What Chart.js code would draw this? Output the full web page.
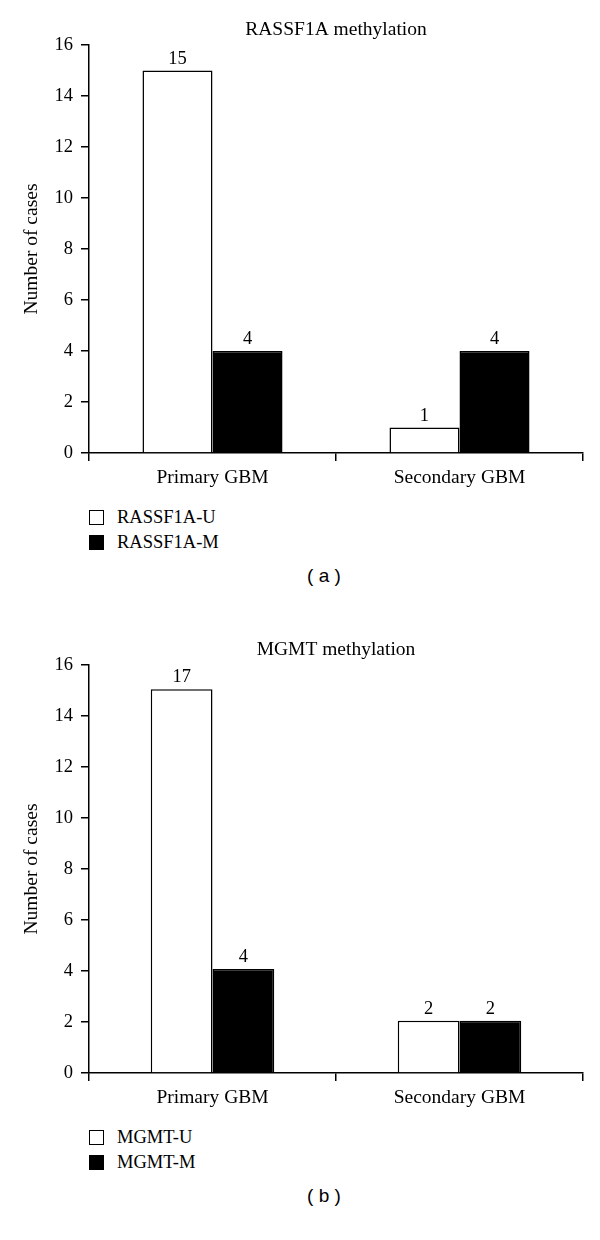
<!DOCTYPE html>
<html>
<head>
<meta charset="utf-8">
<script src="https://cdn.jsdelivr.net/npm/chart.js"></script>
<style>
  body { margin: 0; background: #fff; }
  #page { position: relative; width: 600px; height: 1240px; font-family: "Liberation Serif", serif; color: #000; }
  .chart-box { position: absolute; left: 0; width: 600px; height: 493px; }
  .legend-row { position: absolute; left: 89px; height: 25px; display: flex; align-items: center; font-size: 18.5px; }
  .swatch { width: 15px; height: 15px; box-sizing: border-box; border: 1.5px solid #000; margin-right: 13px; }
  .caption { position: absolute; left: 0; width: 648px; text-align: center; font-family: "Liberation Sans", sans-serif; font-size: 19px; }
</style>
</head>
<body>
<div id="page">
  <div class="chart-box" style="top:0"><canvas id="chart-a"></canvas></div>
  <div class="legend-row" style="top:505px"><div class="swatch" style="background:#fff"></div>RASSF1A-U</div>
  <div class="legend-row" style="top:530px"><div class="swatch" style="background:#000"></div>RASSF1A-M</div>
  <div class="caption" style="top:565px">( a )</div>

  <div class="chart-box" style="top:620px"><canvas id="chart-b"></canvas></div>
  <div class="legend-row" style="top:1125px"><div class="swatch" style="background:#fff"></div>MGMT-U</div>
  <div class="legend-row" style="top:1150px"><div class="swatch" style="background:#000"></div>MGMT-M</div>
  <div class="caption" style="top:1185px">( b )</div>
</div>

<script>
// 数据
const categories = ['Primary GBM', 'Secondary GBM'];

const rassfU = [15, 1];
const rassfM = [4, 4];
const rassfULabels = ['15', '1'];
const rassfMLabels = ['4', '4'];

// 图中 Primary 的柱高约 15，但标注为 17，照原图保留
const mgmtU = [15.05, 2.05];
const mgmtM = [4.08, 2.05];
const mgmtULabels = ['17', '2'];
const mgmtMLabels = ['4', '2'];

const yTicks = [0, 2, 4, 6, 8, 10, 12, 14, 16];

const serif = '"Liberation Serif", serif';
Chart.defaults.color = '#000';
Chart.defaults.font.family = serif;
Chart.defaults.font.size = 18;

// 柱顶数值标注
const valueLabels = {
    id: 'valueLabels',
    afterDatasetsDraw(chart, args, opts) {
        const ctx = chart.ctx;
        ctx.save();
        ctx.font = '18.5px ' + serif;
        ctx.fillStyle = '#000';
        ctx.textAlign = 'center';
        ctx.textBaseline = 'alphabetic';
        chart.data.datasets.forEach((ds, i) => {
            chart.getDatasetMeta(i).data.forEach((bar, j) => {
                ctx.fillText(opts.labels[i][j], bar.x, bar.y - 7);
            });
        });
        ctx.restore();
    }
};

function makeChart(id, title, uVals, mVals, uLabels, mLabels, catPct) {
    const ctx = document.getElementById(id).getContext('2d');
    return new Chart(ctx, {
        type: 'bar',
        data: {
            labels: categories,
            datasets: [
                { data: uVals, backgroundColor: '#fff', borderColor: '#000', borderWidth: 1.5 },
                { data: mVals, backgroundColor: '#000', borderColor: '#000', borderWidth: 1.5 }
            ]
        },
        options: {
            responsive: true, maintainAspectRatio: false, animation: false,
            layout: { padding: { left: 0, right: 17, top: 0, bottom: 0 } },
            datasets: { bar: { barPercentage: 1.0, categoryPercentage: catPct } },
            plugins: {
                legend: { display: false },
                tooltip: { enabled: false },
                title: {
                    display: true, text: title, fullSize: false,
                    font: { family: serif, size: 19.5, weight: 'normal', lineHeight: 1.2 },
                    padding: { top: 18, bottom: 3.6 }
                },
                valueLabels: { labels: [uLabels, mLabels] }
            },
            scales: {
                x: {
                    grid: { display: true, drawOnChartArea: false, offset: true, tickLength: 8, color: '#000', lineWidth: 1.5 },
                    border: { display: true, color: '#000', width: 1.5 },
                    ticks: { padding: 5, font: { size: 19.5 } },
                    afterFit: s => { s.height = 40; }
                },
                y: {
                    min: 0, max: 16,
                    afterBuildTicks: s => { s.ticks = yTicks.map(v => ({ value: v })); },
                    grid: { display: true, drawOnChartArea: false, tickLength: 8, color: '#000', lineWidth: 1.5 },
                    border: { display: true, color: '#000', width: 1.5 },
                    ticks: { padding: 8, font: { size: 18.5 } },
                    title: { display: true, text: 'Number of cases', font: { size: 19.5 }, padding: { top: 20, bottom: 0 } },
                    afterFit: s => { s.width = 89; }
                }
            }
        },
        plugins: [valueLabels]
    });
}

makeChart('chart-a', 'RASSF1A methylation', rassfU, rassfM, rassfULabels, rassfMLabels, 0.567);
makeChart('chart-b', 'MGMT methylation', mgmtU, mgmtM, mgmtULabels, mgmtMLabels, 0.5);
</script>
</body>
</html>
